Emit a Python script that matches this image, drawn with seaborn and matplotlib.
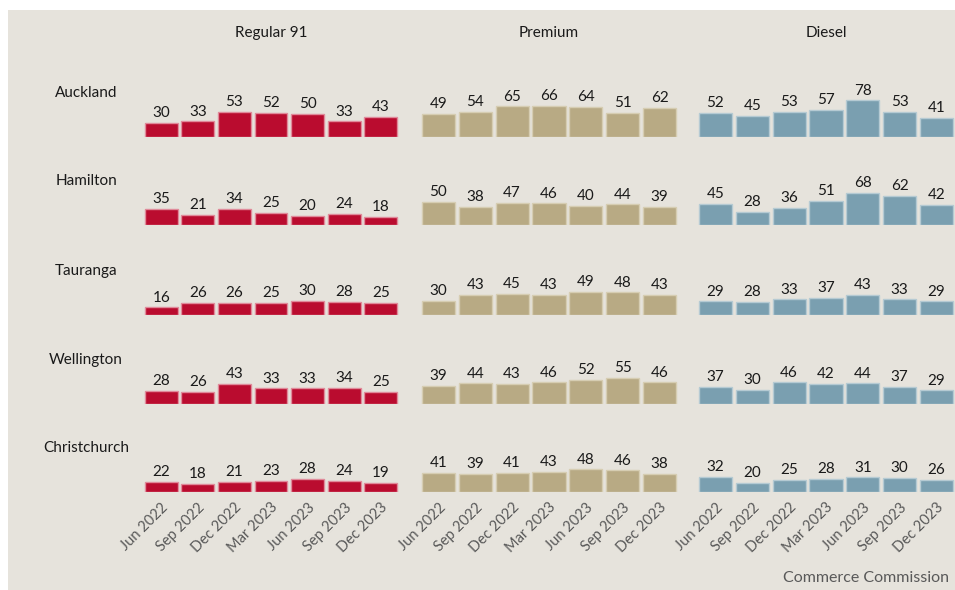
import pandas as pd
import seaborn as sns
import matplotlib.pyplot as plt
from matplotlib.patches import Rectangle

# === Data ===
quarters = ["Jun 2022", "Sep 2022", "Dec 2022", "Mar 2023", "Jun 2023", "Sep 2023", "Dec 2023"]
cities = ["Auckland", "Hamilton", "Tauranga", "Wellington", "Christchurch"]
fuels = ["Regular 91", "Premium", "Diesel"]

regular_91 = {
    "Auckland": [30, 33, 53, 52, 50, 33, 43],
    "Hamilton": [35, 21, 34, 25, 20, 24, 18],
    "Tauranga": [16, 26, 26, 25, 30, 28, 25],
    "Wellington": [28, 26, 43, 33, 33, 34, 25],
    "Christchurch": [22, 18, 21, 23, 28, 24, 19],
}
premium = {
    "Auckland": [49, 54, 65, 66, 64, 51, 62],
    "Hamilton": [50, 38, 47, 46, 40, 44, 39],
    "Tauranga": [30, 43, 45, 43, 49, 48, 43],
    "Wellington": [39, 44, 43, 46, 52, 55, 46],
    "Christchurch": [41, 39, 41, 43, 48, 46, 38],
}
diesel = {
    "Auckland": [52, 45, 53, 57, 78, 53, 41],
    "Hamilton": [45, 28, 36, 51, 68, 62, 42],
    "Tauranga": [29, 28, 33, 37, 43, 33, 29],
    "Wellington": [37, 30, 46, 42, 44, 37, 29],
    "Christchurch": [32, 20, 25, 28, 31, 30, 26],
}

# long table
rows = []
for fuel, table in zip(fuels, [regular_91, premium, diesel]):
    for city in cities:
        for q, v in zip(quarters, table[city]):
            rows.append({"fuel": fuel, "city": city, "quarter": q, "margin": v})
df = pd.DataFrame(rows)

colors = {"Regular 91": "#BA0C2F", "Premium": "#B8AA84", "Diesel": "#7A9FB0"}
edges = {"Regular 91": "#E08A9A", "Premium": "#D6CDB2", "Diesel": "#B5CAD3"}

# === Layout (pixels) ===
W, H = 955, 590
bg = "#E6E3DC"
col_x = [(143, 399), (420, 678), (697, 955)]
baselines = [137, 225, 315, 404, 492]
px_per_unit = 0.47
ymax = 100

sns.set_theme(style="white")
plt.rcParams["font.family"] = ["Lato", "DejaVu Sans"]

fig = plt.figure(figsize=(W / 100, H / 100), dpi=100, facecolor="white")
fig.patches.append(Rectangle((8 / W, 0), 1 - 8 / W, 1 - 10 / H,
                             transform=fig.transFigure, facecolor=bg,
                             edgecolor="none", zorder=-10))

for ri, city in enumerate(cities):
    base = baselines[ri]
    h_px = ymax * px_per_unit
    for ci, fuel in enumerate(fuels):
        x0, x1 = col_x[ci]
        ax = fig.add_axes([x0 / W, 1 - base / H, (x1 - x0) / W, h_px / H])
        ax.set_facecolor("none")
        sub = df[(df.city == city) & (df.fuel == fuel)]
        sns.barplot(data=sub, x="quarter", y="margin", order=quarters,
                    color=colors[fuel], edgecolor=edges[fuel], linewidth=1,
                    width=0.9, saturation=1, ax=ax)
        for c in ax.containers:
            ax.bar_label(c, fmt="%d", padding=2, fontsize=11, color="#1a1a1a")
        ax.set_ylim(0, ymax)
        ax.set_xlim(-0.5, len(quarters) - 0.5)
        ax.set_xlabel("")
        ax.set_ylabel("")
        ax.set_yticks([])
        sns.despine(ax=ax, left=True, bottom=True)
        if ri == len(cities) - 1:
            ax.tick_params(axis="x", length=0, pad=6)
            ax.set_xticks(range(len(quarters)))
            ax.set_xticklabels(quarters, rotation=45, ha="right",
                               rotation_mode="anchor", fontsize=10.5, color="#595959")
        else:
            ax.set_xticks([])
    fig.text(86 / W, 1 - (base - 44) / H, city, fontsize=11, color="#1a1a1a",
             ha="center", va="center")

for ci, fuel in enumerate(fuels):
    x0, x1 = col_x[ci]
    fig.text((x0 + x1) / 2 / W, 1 - 33 / H, fuel, fontsize=11, color="#1a1a1a",
             ha="center", va="center")

fig.text(783 / W, 1 - 578 / H, "Commerce Commission", fontsize=11.5, color="#595959",
         ha="left", va="center")

plt.savefig("out.png", dpi=100, facecolor=fig.get_facecolor())
plt.close()
